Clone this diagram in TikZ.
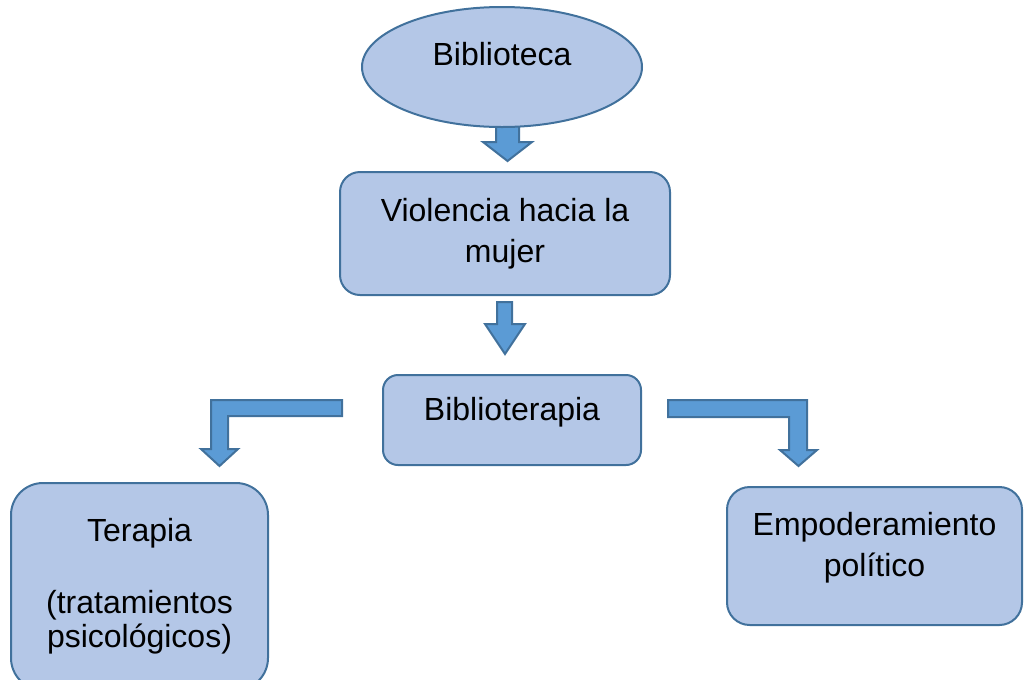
\documentclass[tikz,border=0pt]{standalone}
\usepackage{fontspec}
\setmainfont{Liberation Sans}
\usetikzlibrary{shapes.geometric}
\definecolor{boxfill}{HTML}{B4C7E7}
\definecolor{boxline}{HTML}{41719C}
\definecolor{arrfill}{HTML}{5B9BD5}

\begin{document}
\begin{tikzpicture}[x=0.75pt, y=-0.75pt,
  box/.style={draw=boxline, fill=boxfill, line width=1.5pt, align=center,
              font=\fontsize{24}{30.5}\selectfont, inner sep=0pt},
  topic/.style={box, ellipse, minimum width=210pt, minimum height=90pt},
  card/.style={box, rectangle, rounded corners=#1},
  blk/.style={draw=boxline, fill=arrfill, line width=1.5pt, line join=miter}]
\useasboundingbox (0,0) rectangle (1024,679);
% block arrows first, the boxes sit on top of them
\draw[blk] (496,118) -- (519,118) -- (519,142) -- (532,142) -- (507.5,161)
  -- (483,142) -- (496,142) -- cycle;
\draw[blk] (497,302) -- (512,302) -- (512,324) -- (525,324) -- (505,354)
  -- (485,324) -- (497,324) -- cycle;
% elbow arrows out of Biblioterapia
\draw[blk] (342,400) -- (211,400) -- (211,449) -- (201,449) -- (219.5,466)
  -- (238,449) -- (228,449) -- (228,416) -- (342,416) -- cycle;
\draw[blk] (668,400) -- (807,400) -- (807,450) -- (817,450) -- (798.5,466)
  -- (780,450) -- (789,450) -- (789,417) -- (668,417) -- cycle;
% nodes
\node[topic, text height=17pt, text depth=19pt] (bib) at (502,67) {Biblioteca};
\node[card=15pt, minimum width=247.5pt, minimum height=92.25pt] (vio)
  at (505,233.5) {Violencia hacia la\\mujer};
\node[card=11.25pt, minimum width=193.5pt, minimum height=67.5pt,
  text height=17pt, text depth=16pt] (bter) at (512,420) {Biblioterapia};
\node[card=24pt, minimum width=192.75pt, minimum height=155.25pt] (ter)
  at (139.5,586.5) {Terapia\\[23pt](tratamientos\\[-4.5pt]psicológicos)};
\node[card=17pt, minimum width=221.25pt, minimum height=103.5pt,
  text depth=17pt] (emp) at (874.5,556) {Empoderamiento\\político};
\end{tikzpicture}
\end{document}
